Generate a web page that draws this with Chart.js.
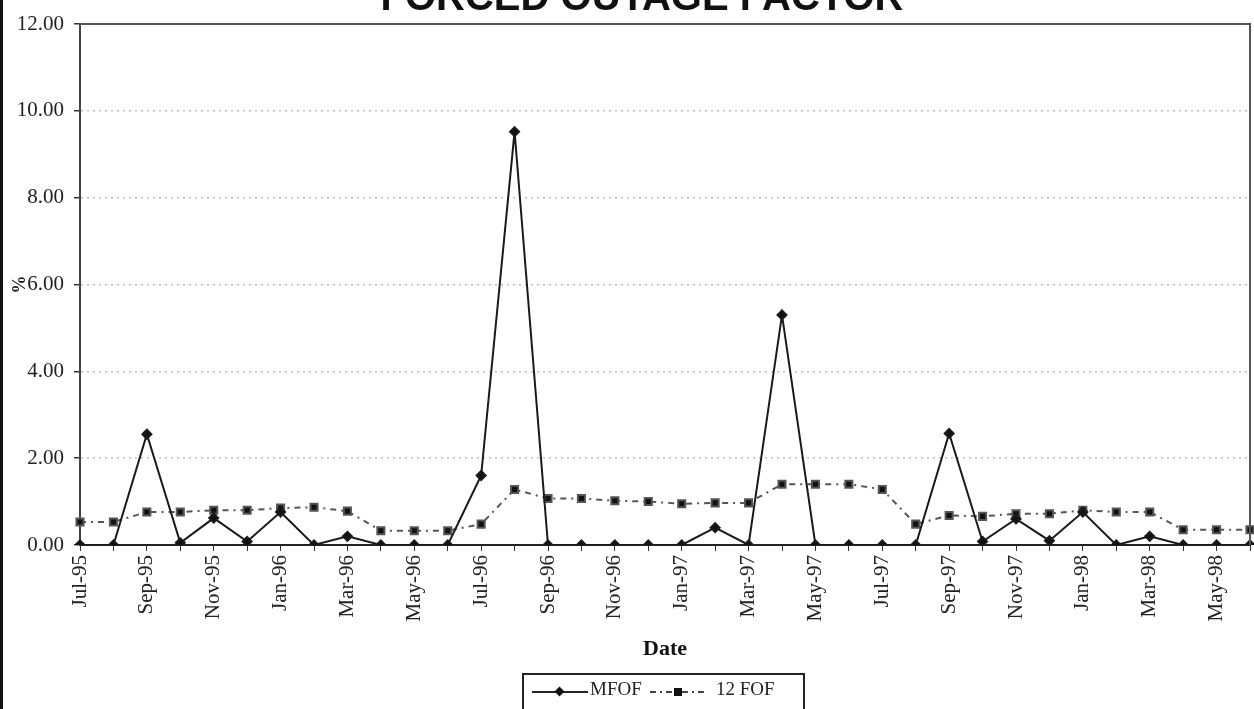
<!DOCTYPE html>
<html>
<head>
<meta charset="utf-8">
<script src="https://cdn.jsdelivr.net/npm/chart.js@4.4.0/dist/chart.umd.min.js"></script>
<style>
  html, body { margin: 0; padding: 0; background: #fff; overflow: hidden; }
  #wrap { position: relative; width: 1254px; height: 709px; overflow: hidden; }
  #frame { position: absolute; left: 0; top: 0; width: 3px; height: 709px; background: #111; }
  #title {
    position: absolute; left: 0; width: 1284px; top: -26px; text-align: center;
    font: bold 40px "Liberation Sans", Arial, sans-serif; color: #111;
  }
  #legend {
    position: absolute; left: 522px; top: 673px; width: 283px; height: 44px;
    border: 2px solid #222; box-sizing: border-box;
    font: 19px "Liberation Serif", "Times New Roman", serif; color: #222;
  }
  #legend svg { position: absolute; top: 7px; }
  #legend span { position: absolute; top: 3px; }
</style>
</head>
<body>
<div id="wrap">
  <canvas id="myChart" width="1257" height="709"></canvas>
  <div id="title">FORCED OUTAGE FACTOR</div>
  <div id="frame"></div>
  <div id="legend">
    <svg width="60" height="20" style="left:6px">
      <line x1="2" y1="10" x2="58" y2="10" stroke="#222" stroke-width="2"/>
      <rect x="26" y="6" width="7" height="7" fill="#111" transform="rotate(45 29.5 9.5)"/>
    </svg>
    <span style="left:66px">MFOF</span>
    <svg width="64" height="20" style="left:122px">
      <line x1="4" y1="10" x2="60" y2="10" stroke="#444" stroke-width="2" stroke-dasharray="6 4 2 4"/>
      <rect x="28" y="6" width="8" height="8" fill="#111"/>
    </svg>
    <span style="left:192px">12 FOF</span>
  </div>
</div>
<script>
var months = ['Jul-95','Aug-95','Sep-95','Oct-95','Nov-95','Dec-95','Jan-96','Feb-96','Mar-96','Apr-96','May-96','Jun-96',
              'Jul-96','Aug-96','Sep-96','Oct-96','Nov-96','Dec-96','Jan-97','Feb-97','Mar-97','Apr-97','May-97','Jun-97',
              'Jul-97','Aug-97','Sep-97','Oct-97','Nov-97','Dec-97','Jan-98','Feb-98','Mar-98','Apr-98','May-98','Jun-98'];

var mfof = [0, 0, 2.55, 0.05, 0.62, 0.08, 0.76, 0, 0.2, 0, 0, 0,
            1.6, 9.52, 0, 0, 0, 0, 0, 0.4, 0, 5.3, 0, 0,
            0, 0, 2.57, 0.08, 0.6, 0.1, 0.76, 0, 0.2, 0, 0, 0];

var fof12 = [0.53, 0.53, 0.76, 0.76, 0.8, 0.8, 0.85, 0.87, 0.78, 0.33, 0.33, 0.33,
             0.48, 1.28, 1.07, 1.07, 1.02, 1.0, 0.95, 0.97, 0.97, 1.4, 1.4, 1.4,
             1.28, 0.48, 0.68, 0.66, 0.72, 0.72, 0.8, 0.76, 0.76, 0.35, 0.35, 0.35];

var yTicks = [0, 2, 4, 6, 8, 10, 12];

var serif = '"Liberation Serif", "Times New Roman", serif';

// box round the plot area (top and right edges)
var plotBox = {
  id: 'plotBox',
  afterDraw: function(chart) {
    var a = chart.chartArea, ctx = chart.ctx;
    ctx.save();
    ctx.strokeStyle = '#555';
    ctx.lineWidth = 2;
    ctx.beginPath();
    ctx.moveTo(a.left, a.top);
    ctx.lineTo(a.right, a.top);
    ctx.lineTo(a.right, a.bottom);
    ctx.stroke();
    ctx.restore();
  }
};

new Chart('myChart', {
  type: 'line',
  data: {
    labels: months,
    datasets: [{
      label: 'MFOF',
      data: mfof,
      borderColor: '#1a1a1a',
      backgroundColor: '#111',
      borderWidth: 2,
      pointStyle: 'rectRot',
      pointRadius: 4.5,
      pointHoverRadius: 4.5,
      tension: 0
    }, {
      label: '12 FOF',
      data: fof12,
      borderColor: '#555',
      backgroundColor: '#111',
      borderWidth: 2,
      borderDash: [6, 5, 2, 5],
      pointStyle: 'rect',
      pointRadius: 5,
      pointHoverRadius: 5,
      tension: 0
    }]
  },
  options: {
    responsive: false,
    animation: false,
    layout: { padding: { top: 24, right: 0, bottom: 44, left: 0 } },
    plugins: {
      legend: { display: false },
      title: { display: false },
      tooltip: { enabled: false }
    },
    scales: {
      x: {
        offset: false,
        afterFit: function(s) { s.height = 120; s.paddingRight = 0; s.paddingLeft = 0; },
        grid: { drawOnChartArea: false, drawTicks: true, tickLength: 6, color: '#333' },
        border: { color: '#222', width: 2 },
        ticks: {
          autoSkip: false, minRotation: 90, maxRotation: 90, padding: 4,
          color: '#222', font: { family: serif, size: 21 },
          callback: function(v, i) { return i % 2 === 0 ? months[i] : ''; }
        },
        title: {
          display: true, text: 'Date', color: '#111',
          font: { family: serif, size: 22, weight: 'bold' },
          padding: { top: 0, bottom: 2 }
        }
      },
      y: {
        min: yTicks[0], max: yTicks[yTicks.length - 1],
        afterFit: function(s) { s.width = 80; },
        afterBuildTicks: function(s) { s.ticks = yTicks.map(function(v) { return { value: v }; }); },
        grid: {
          color: function(c) { return (c.tick && (c.tick.value === 0 || c.tick.value === 12)) ? 'rgba(0,0,0,0)' : '#bdbdbd'; },
          lineWidth: 1.5, tickLength: 6, tickColor: '#333'
        },
        border: { color: '#444', width: 2, dash: [2, 4] },
        ticks: {
          padding: 10, color: '#222', font: { family: serif, size: 21 },
          callback: function(v) { return Number(v).toFixed(2); }
        },
        title: {
          display: true, text: '%', color: '#222',
          font: { family: serif, size: 18, weight: 'bold' },
          padding: { top: 10, bottom: 0 }
        }
      }
    }
  },
  plugins: [plotBox]
});
</script>
</body>
</html>
